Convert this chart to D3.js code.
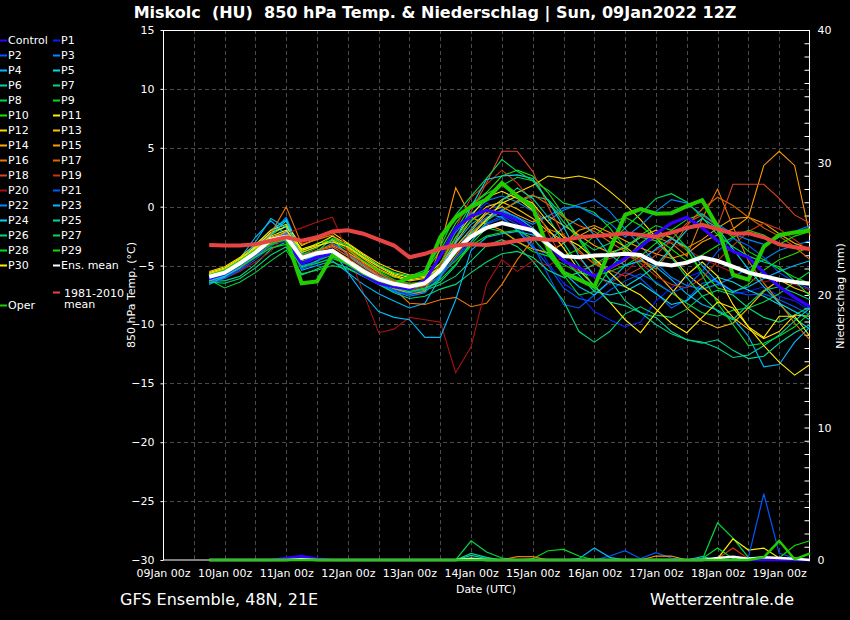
<!DOCTYPE html>
<html><head><meta charset="utf-8">
<script src="https://cdn.jsdelivr.net/npm/d3@7"></script>
<style>
html,body{margin:0;padding:0;background:#000;}
svg{display:block;}
text{font-family:"DejaVu Sans",sans-serif;fill:#fff;}
</style></head><body>
<svg id="c" width="850" height="620"></svg>
<script>
// ---------- DATA ----------
const titleText = "Miskolc  (HU)  850 hPa Temp. & Niederschlag | Sun, 09Jan2022 12Z";
const leadHours = d3.range(6, 241, 6); // forecast steps after 09Jan2022 12Z run
const xTickLabels = ["09Jan 00z","10Jan 00z","11Jan 00z","12Jan 00z","13Jan 00z","14Jan 00z","15Jan 00z","16Jan 00z","17Jan 00z","18Jan 00z","19Jan 00z"];
const tempTicks = [15,10,5,0,-5,-10,-15,-20,-25,-30];
const precipTicks = [0,10,20,30,40];

const memberNames = ["P1","P2","P3","P4","P5","P6","P7","P8","P9","P10","P11","P12","P13","P14","P15","P16","P17","P18","P19","P20","P21","P22","P23","P24","P25","P26","P27","P28","P29","P30"];
const memberColors = ["#0022ff","#0058ff","#0088ff","#00bbff","#00d8e8","#00d898","#00d878","#00d844","#00dd18","#22dd00","#ffee00","#ffd800","#ffc000","#ffaa00","#ff9900","#ee7700","#dd6600","#dd4422","#cc3311","#aa1111","#0058ff","#0088ff","#00bbff","#00d8e8","#00d898","#00d878","#00dd55","#00dd22","#11dd00","#ffee00"];

const memberTemps = [
 [-6.2,-5.8,-5.0,-4.1,-3.2,-2.0,-4.9,-4.4,-3.4,-4.2, -5.2,-6.0,-6.9,-7.1,-6.9,-5.5,-3.0,-1.0,0.3,-0.2, -1.0,-2.4,-4.8,-6.5,-7.4,-8.9,-9.6,-10.2,-9.8,-8.0, -6.9,-6.0,-5.5,-6.5,-7.4,-7.2,-6.8,-7.6,-8.0,-8.8],
 [-6.4,-6.0,-5.3,-4.3,-3.0,-1.5,-5.1,-4.6,-3.6,-4.5, -5.6,-6.4,-7.2,-7.5,-7.2,-6.0,-4.4,-2.6,-1.4,-0.8, -1.5,-3.2,-5.8,-8.3,-8.6,-7.5,-6.4,-5.6,-6.1,-7.3, -8.6,-7.9,-6.5,-6.3,-7.2,-7.5,-7.4,-7.9,-8.5,-9.2],
 [-6.0,-5.7,-5.0,-3.5,-2.3,-0.9,-4.0,-3.8,-3.1,-3.9, -4.9,-5.8,-6.5,-6.7,-6.2,-4.3,-2.2,-0.6,0.5,0.9, 0.4,-0.4,-1.2,-0.3,0.2,0.6,-0.4,-1.9,-3.3,-4.8, -6.0,-6.7,-7.0,-6.6,-6.0,-5.2,-4.5,-3.7,-3.3,-2.9],
 [-6.6,-6.0,-4.4,-2.6,-1.2,-2.4,-5.4,-5.0,-4.6,-5.6, -6.6,-7.4,-8.0,-8.6,-8.2,-6.0,-3.1,-1.5,-0.6,-0.9, -2.0,-3.5,-4.0,-5.6,-6.8,-7.5,-6.3,-5.0,-4.6,-5.1, -6.2,-7.4,-8.3,-8.8,-9.5,-11.0,-13.6,-13.4,-11.5,-10.2],
 [-5.9,-5.5,-4.6,-3.3,-2.0,-1.1,-3.9,-3.4,-2.8,-4.1, -5.0,-5.9,-6.3,-6.6,-6.4,-5.2,-3.7,-2.3,-1.0,-0.3, -0.9,-1.8,-3.0,-4.4,-5.8,-7.2,-7.5,-7.2,-6.5,-7.4, -8.3,-8.0,-6.8,-6.0,-6.4,-7.1,-7.6,-8.3,-9.5,-10.4],
 [-6.1,-5.8,-5.1,-4.2,-3.1,-2.7,-4.7,-4.1,-3.7,-4.4, -5.3,-6.1,-6.7,-7.0,-6.7,-5.6,-4.0,-2.2,-1.2,-0.3, 0.4,0.9,0.6,-0.8,-2.6,-4.5,-6.2,-8.0,-9.0,-9.4, -10.6,-11.3,-11.5,-12.0,-12.8,-12.6,-11.8,-10.9,-9.7,-8.6],
 [-6.3,-6.3,-5.9,-4.9,-3.6,-3.0,-5.2,-4.6,-4.1,-4.9, -5.7,-6.4,-7.0,-7.3,-7.1,-6.6,-5.9,-4.6,-3.3,-2.8, -3.4,-4.6,-6.3,-8.0,-10.6,-11.5,-10.6,-9.1,-8.5,-9.2, -9.4,-8.7,-7.6,-7.1,-7.5,-8.6,-9.4,-9.8,-9.2,-8.5],
 [-6.2,-6.9,-6.4,-5.6,-4.6,-3.7,-5.7,-5.4,-5.0,-5.3, -5.9,-6.5,-6.9,-7.4,-7.0,-5.2,-2.0,0.1,1.1,1.8, 2.5,2.2,1.4,0.3,0.0,-0.5,-1.8,-3.5,-5.1,-6.5, -7.3,-8.2,-9.0,-9.3,-8.8,-8.6,-8.1,-7.4,-6.4,-5.5],
 [-6.0,-5.6,-4.9,-4.0,-2.9,-2.3,-4.1,-3.5,-2.5,-3.6, -4.6,-5.5,-6.2,-6.5,-6.4,-5.7,-4.6,-3.2,-1.8,-2.1, -2.9,-3.8,-4.2,-4.9,-5.6,-5.9,-5.5,-5.0,-4.2,-3.1, -2.0,-1.1,-0.6,-1.6,-2.6,-3.8,-4.5,-5.3,-6.0,-6.5],
 [-5.7,-5.4,-4.7,-3.7,-2.4,-1.6,-3.8,-3.1,-2.9,-3.7, -4.6,-5.4,-6.0,-6.2,-5.6,-3.7,-1.4,0.2,1.2,2.6, 3.1,2.6,1.2,-0.7,-2.8,-4.7,-5.2,-4.5,-3.1,-2.2, -2.6,-3.7,-5.5,-6.9,-7.3,-6.6,-5.4,-4.5,-4.0,-3.4],
 [-5.6,-5.2,-4.4,-3.4,-2.2,-1.7,-3.6,-3.2,-2.5,-3.2, -4.1,-5.0,-5.7,-6.0,-5.9,-4.8,-2.6,-0.8,0.8,1.3, 0.7,-0.3,-1.9,-3.5,-5.4,-6.7,-8.1,-9.6,-10.7,-9.0, -7.4,-5.8,-4.7,-5.9,-8.3,-10.2,-11.8,-13.2,-14.3,-13.4],
 [-5.5,-5.1,-4.3,-3.2,-2.0,-1.5,-3.3,-2.7,-2.2,-3.1, -4.0,-4.8,-5.4,-5.8,-5.7,-4.9,-3.4,-1.9,-0.4,0.6, 1.2,1.8,2.6,2.4,2.6,2.3,1.3,0.2,-1.1,-2.6, -4.2,-5.7,-6.8,-7.9,-9.4,-10.4,-11.2,-10.6,-9.2,-9.3],
 [-5.8,-5.4,-4.6,-3.6,-2.6,-2.2,-3.9,-3.4,-2.8,-3.5, -4.4,-5.3,-5.9,-6.3,-6.1,-5.0,-3.0,-1.2,0.0,0.4, -0.2,-1.0,-2.1,-2.9,-2.5,-1.8,-2.6,-3.4,-4.4,-5.6, -7.0,-8.6,-9.7,-10.3,-9.9,-8.6,-7.2,-6.2,-6.9,-7.4],
 [-5.9,-5.5,-4.8,-3.8,-2.8,-2.1,-4.3,-3.7,-3.3,-3.9, -4.7,-5.6,-6.4,-6.9,-6.6,-5.5,-3.8,-2.1,-0.6,0.0, -0.7,-1.3,-0.8,-1.6,-2.4,-3.3,-3.9,-3.5,-2.6,-2.0, -2.7,-3.5,-2.8,-1.8,-1.0,-0.9,-1.4,-2.3,-3.1,-3.6],
 [-6.0,-5.7,-5.0,-4.1,-3.1,-2.5,-4.5,-4.0,-3.6,-4.4, -5.3,-6.1,-6.9,-7.4,-7.2,-3.4,1.6,-0.9,-1.5,-2.0, -3.0,-3.6,-3.9,-3.1,-2.0,-1.6,-2.2,-2.9,-3.5,-4.0, -4.4,-4.0,-3.0,-2.4,-1.9,-0.9,3.5,4.7,3.5,-2.5],
 [-6.1,-5.7,-4.9,-3.9,-2.3,0.0,-3.2,-2.8,-2.4,-3.6, -4.8,-5.9,-7.0,-8.2,-8.3,-7.9,-7.7,-8.5,-8.2,-6.6, -4.5,-2.8,-1.9,-2.4,-3.7,-4.9,-5.3,-4.6,-3.3,-2.6, -3.1,-4.2,-1.0,1.5,-1.7,-4.6,-6.5,-8.1,-9.9,-11.3],
 [-6.2,-5.8,-5.0,-4.0,-3.0,-2.6,-4.5,-3.8,-3.4,-4.2, -5.1,-5.9,-6.5,-6.9,-6.7,-5.9,-4.2,-2.4,-1.0,-0.4, 0.5,1.0,0.2,-0.9,-1.6,-2.1,-3.0,-3.8,-4.6,-5.3, -3.6,-1.6,-0.2,0.8,0.1,-0.9,-1.8,-2.5,-3.4,-4.5],
 [-6.0,-5.5,-4.7,-3.8,-2.7,-2.4,-4.2,-3.7,-3.2,-4.0, -4.9,-5.7,-6.3,-6.6,-6.4,-5.0,-2.6,-0.4,2.0,4.7, 4.7,3.0,0.0,-2.4,-3.9,-4.8,-5.4,-5.9,-5.2,-4.1, -2.8,-1.4,-0.7,-1.7,1.9,1.9,1.9,0.7,-0.7,-1.4],
 [-6.3,-5.9,-5.2,-4.3,-3.3,-2.8,-4.7,-4.2,-3.9,-4.6, -5.4,-6.2,-6.8,-7.1,-6.8,-4.9,-1.8,0.8,1.9,3.1, 2.0,0.4,-2.2,-4.6,-5.5,-4.9,-4.4,-4.0,-4.8,-5.9, -6.6,-6.9,-6.1,-4.6,-3.3,-2.1,-1.4,-1.9,-2.8,-3.8],
 [-6.4,-6.1,-5.5,-4.7,-3.8,-2.3,-1.8,-1.3,-0.9,-3.9, -7.3,-10.7,-10.4,-9.4,-9.6,-9.8,-14.1,-11.9,-6.6,-4.5, -5.5,-4.6,-5.0,-4.3,-4.4,-5.7,-6.6,-5.6,-4.3,-3.7, -3.0,-3.6,-4.4,-5.0,-5.6,-6.1,-6.4,-6.1,-6.6,-7.1],
 [-6.5,-6.1,-5.4,-4.5,-3.4,-2.4,-5.3,-4.8,-4.3,-5.0, -5.9,-6.6,-7.1,-7.4,-7.0,-5.8,-4.4,-3.0,-1.5,-1.0, -1.8,-3.4,-5.0,-6.9,-7.8,-8.1,-7.1,-6.3,-5.7,-6.4, -7.3,-6.8,-5.5,-3.8,-2.7,-3.3,-4.3,-5.6,-6.4,-7.0],
 [-6.2,-5.8,-5.1,-4.3,-3.2,-2.2,-5.0,-4.7,-3.7,-4.6, -5.6,-6.5,-7.2,-7.6,-7.3,-5.9,-3.7,-1.9,-0.9,-0.4, -0.9,-1.5,-0.8,-0.1,0.0,-0.7,-1.4,-2.6,-1.6,-0.4, 0.6,0.3,-0.7,-1.5,-2.3,-2.8,-3.2,-2.6,-2.1,-1.6],
 [-6.5,-6.0,-4.9,-3.0,-1.0,-1.8,-4.7,-4.1,-3.7,-5.6, -7.4,-8.9,-9.4,-9.6,-11.1,-11.1,-7.9,-3.7,-2.6,-2.3, -2.1,-2.4,-2.9,-1.8,-1.0,-2.4,-4.1,-5.0,-4.6,-3.6, -2.7,-3.4,-5.0,-6.4,-7.2,-6.8,-6.1,-5.5,-5.0,-4.6],
 [-6.3,-5.9,-5.2,-4.0,-2.4,-1.2,-4.4,-4.3,-3.8,-4.8, -5.7,-6.3,-6.6,-6.9,-6.5,-5.3,-2.9,0.0,2.3,2.6, 2.7,2.4,0.5,-1.7,-4.2,-5.9,-6.4,-6.8,-6.0,-5.0, -3.5,-2.0,-1.0,-1.8,-3.6,-5.3,-6.8,-8.2,-8.9,-9.6],
 [-6.0,-5.6,-4.8,-4.0,-3.1,-2.7,-4.8,-4.2,-3.9,-4.7, -5.6,-6.3,-6.9,-7.2,-6.9,-6.4,-5.0,-3.0,-1.3,0.5, 1.6,0.7,-0.9,-3.1,-5.0,-6.8,-8.1,-8.4,-9.0,-10.0, -10.8,-11.3,-11.6,-11.3,-12.2,-12.9,-12.7,-11.6,-10.7,-10.0],
 [-6.4,-6.5,-6.1,-5.2,-4.1,-3.4,-5.8,-5.3,-4.7,-5.2, -5.9,-6.6,-7.3,-7.8,-7.6,-7.0,-6.6,-5.6,-4.7,-4.0, -3.8,-4.3,-5.4,-6.0,-5.6,-4.9,-4.1,-3.3,-2.6,-2.9, -4.3,-6.0,-7.6,-8.9,-9.6,-8.3,-7.1,-6.8,-7.3,-7.9],
 [-5.8,-5.5,-4.8,-3.9,-2.9,-2.5,-4.3,-3.8,-2.7,-3.3, -4.2,-5.0,-5.6,-5.9,-5.4,-3.4,-0.7,0.9,2.4,4.0, 3.0,2.2,0.5,-1.3,-2.8,-3.7,-3.1,-1.8,-0.6,0.7, 1.1,0.4,-0.9,-2.4,-3.4,-4.2,-4.7,-5.1,-6.3,-7.6],
 [-6.1,-5.8,-5.1,-4.3,-3.5,-3.2,-5.1,-4.8,-4.4,-4.9, -5.7,-6.3,-6.8,-7.2,-7.0,-6.2,-4.9,-3.3,-2.5,-2.2, -2.0,-2.7,-4.1,-5.8,-7.5,-7.2,-5.3,-3.6,-2.4,-1.6, -2.0,-3.5,-5.8,-8.2,-10.0,-11.8,-11.6,-11.0,-10.2,-9.0],
 [-5.9,-5.6,-4.9,-4.1,-3.2,-2.9,-4.6,-4.4,-4.0,-4.8, -5.6,-6.2,-6.8,-7.0,-6.6,-4.8,-2.6,-1.2,-0.3,-0.5, -1.1,-2.2,-3.5,-4.2,-3.6,-2.5,-1.4,-0.9,-1.6,-2.7, -3.6,-4.6,-4.1,-3.3,-2.6,-2.0,-2.4,-3.2,-2.5,-2.1],
 [-5.7,-5.3,-4.5,-3.5,-2.5,-2.0,-3.7,-3.3,-3.0,-3.4, -4.3,-5.1,-5.8,-6.2,-6.0,-5.2,-3.9,-2.5,-1.1,0.3, 0.9,0.3,-1.3,-2.6,-3.3,-4.4,-5.6,-6.8,-7.5,-8.7, -9.9,-10.7,-9.4,-8.1,-8.6,-10.2,-11.1,-9.3,-9.3,-11.0]
];

const controlTemp = [-6.1,-5.7,-4.9,-4.0,-3.0,-2.9,-4.8,-4.3,-4.0,-4.9, -5.8,-6.5,-6.8,-7.0,-6.3,-4.2,-1.8,-0.8,-0.3,-0.6, -1.2,-2.0,-3.2,-4.6,-5.2,-5.9,-5.2,-4.4,-3.4,-2.3, -1.4,-0.9,-1.8,-2.9,-3.8,-4.3,-5.6,-6.8,-7.7,-8.5];
const operTemp = [-5.9,-5.5,-4.7,-3.8,-3.0,-2.7,-6.5,-6.35,-4.1,-4.8, -5.6,-6.2,-6.6,-6.0,-5.7,-2.6,-0.9,0.0,0.6,2.0, 0.9,0.0,-3.6,-5.6,-6.2,-6.8,-3.7,-0.7,-0.2,-0.6, -0.55,0.05,0.55,-1.7,-5.8,-6.2,-3.4,-2.4,-2.2,-2.0];
const ensMeanTemp = [-5.95,-5.6,-4.8,-3.9,-2.8,-2.55,-4.35,-3.95,-3.75,-4.65, -5.5,-6.15,-6.55,-6.8,-6.5,-5.4,-3.7,-2.55,-1.8,-1.4, -1.7,-2.0,-3.2,-4.2,-4.3,-4.15,-4.1,-4.0,-4.1,-4.8, -5.0,-4.75,-4.3,-4.6,-5.1,-5.6,-5.9,-6.2,-6.4,-6.55];
const climateTemp = [-3.25,-3.3,-3.3,-3.2,-2.9,-2.6,-2.9,-2.6,-2.1,-2.0, -2.3,-2.8,-3.3,-4.3,-4.0,-3.55,-3.3,-3.2,-3.25,-3.1, -2.9,-2.7,-2.8,-2.85,-2.6,-2.5,-2.4,-2.25,-2.4,-2.55, -2.2,-1.8,-1.55,-1.9,-2.3,-2.25,-2.6,-3.2,-3.45,-3.6];

// 6-hourly precipitation (mm); members not listed had none
const memberPrecip = {
 P1:  [0,0,0,0,0,0,0.2,0,0,0, 0,0,0,0,0,0,0,0,0,0, 0,0,0,0,0,0,0,0,0,0, 0,0,0,0,0,0,0,0,0,0],
 P2:  [0,0,0,0,0,0,0,0,0,0, 0,0,0,0,0,0,0,0,0,0, 0,0,0,0,0,0,0.3,0.7,0.1,0.55, 0.15,0,0,0,0,0,0,0,0,0],
 P4:  [0,0,0,0,0,0,0,0,0,0, 0,0,0,0,0,0,0,0,0,0, 0,0,0,0,0.1,0.9,0.2,0,0,0, 0,0,0.25,0,0,0,0,0,0,0],
 P6:  [0,0,0,0,0,0,0,0,0,0, 0,0,0,0,0,0,0,0.35,0.1,0, 0,0,0,0,0,0,0,0,0,0, 0,0,0,0,0,0,0,0,0,0],
 P8:  [0,0,0,0,0,0,0,0,0,0, 0,0,0,0,0,0,0,1.45,0.6,0.15, 0,0,0,0,0,0,0,0,0,0, 0,0,0,2.8,1.65,0.2,0,0,0,0],
 P9:  [0,0,0,0,0,0,0,0,0,0, 0,0,0,0,0,0,0,0,0,0, 0,0.1,0.7,0.8,0.3,0,0,0,0,0, 0,0,0,0,0,0,0,0,0,0],
 P11: [0,0,0,0,0,0,0,0,0,0, 0,0,0,0,0,0,0,0,0,0, 0,0,0,0,0,0,0,0,0,0, 0,0,0,0.1,1.6,0.75,0.9,0.15,0,0],
 P15: [0,0,0,0,0,0,0,0,0,0, 0,0,0,0,0,0,0,0,0,0, 0,0,0,0,0,0,0,0,0,0.3, 0.3,0,0,0,0,0,0,0,0,0],
 P16: [0,0,0,0,0,0,0,0,0,0, 0,0,0,0,0,0,0,0,0,0, 0.25,0.25,0,0,0,0,0,0,0,0, 0,0,0,0,0,0,0,0,0,0],
 P19: [0,0,0,0,0,0,0,0,0,0, 0,0,0,0,0,0,0,0,0,0, 0,0,0,0,0,0,0,0,0,0, 0,0,0,0.1,0.9,0.1,0,0,0,0],
 P21: [0,0,0,0,0,0,0,0,0,0, 0,0,0,0,0,0,0,0,0,0, 0,0,0,0,0,0,0,0,0,0, 0,0,0,0,0,0.2,5.0,0.5,0.15,0],
 P25: [0,0,0,0,0,0,0,0,0,0, 0,0,0,0,0,0,0,0.5,0.2,0, 0,0,0,0,0,0,0,0,0,0, 0,0,0,0,0,0,0,0,0,0],
 P28: [0,0,0,0,0,0,0,0,0,0, 0,0,0,0,0,0,0,0,0,0, 0,0,0,0,0,0,0,0,0,0, 0,0,0.1,0.9,0.1,0,0,0,0,0],
 P29: [0,0,0,0,0,0,0,0,0,0, 0,0,0,0,0,0,0,0,0,0, 0,0,0,0,0,0,0,0,0,0, 0,0,0,0,0,0,0,0.15,1.1,1.45]
};
const controlPrecip = [0,0,0,0,0,0.15,0.3,0.1,0,0, 0,0,0,0,0,0,0,0,0,0, 0,0,0,0,0,0,0,0,0,0, 0,0,0,0,0,0,0,0,0,0];
const operPrecip =    [0,0,0,0,0,0,0,0,0,0, 0,0,0,0,0,0,0,0,0,0, 0,0,0,0,0,0,0,0,0,0, 0,0,0,0,0,0,0.2,1.45,0.05,0.5];
const ensMeanPrecip = [0,0,0,0,0,0,0.05,0,0,0, 0,0,0,0,0,0,0,0.1,0,0, 0,0,0,0,0,0,0,0,0,0, 0,0,0,0.15,0.25,0.1,0.2,0.15,0.1,0];

// ---------- CHART ----------
const svg = d3.select("#c");
svg.append("rect").attr("width",850).attr("height",620).attr("fill","#000");

const runTime = Date.UTC(2022,0,9,12);
const times = leadHours.map(h => new Date(runTime + h*3600e3));
const t0 = new Date(Date.UTC(2022,0,9,0)), t1 = new Date(Date.UTC(2022,0,19,12));
const x = d3.scaleUtc().domain([t0,t1]).range([163,810]);
const yT = d3.scaleLinear().domain([-30,15]).range([560,30]);
const yP = d3.scaleLinear().domain([0,40]).range([560,30]);
const tickDates = xTickLabels.map(s => new Date(Date.UTC(2022, 0, +s.slice(0,2), +s.slice(6,8))));

// grid
const grid = svg.append("g").attr("stroke","#4a4a4a").attr("stroke-width",1).attr("stroke-dasharray","4,3");
d3.utcHour.every(12).range(new Date(Date.UTC(2022,0,9,12)), t1).forEach(d=>{
  grid.append("line").attr("x1",Math.round(x(d))+0.5).attr("x2",Math.round(x(d))+0.5).attr("y1",30).attr("y2",560);
});
tempTicks.filter(v=>v>-30 && v<15).forEach(v=>{
  grid.append("line").attr("x1",163).attr("x2",810).attr("y1",Math.round(yT(v))+0.5).attr("y2",Math.round(yT(v))+0.5);
});

// frame
svg.append("rect").attr("x",163.5).attr("y",30.5).attr("width",646).attr("height",529.5)
  .attr("fill","none").attr("stroke","#fff").attr("stroke-width",1);

// left axis
const leftAxis = d3.axisLeft(yT).tickValues(tempTicks).tickSize(3).tickFormat(d3.format("d"));
const gl = svg.append("g").attr("transform","translate(163.5,0)").call(leftAxis);
gl.select(".domain").remove();
gl.selectAll("line").attr("stroke","#fff");
gl.selectAll("text").attr("fill","#fff").attr("font-size",11).attr("font-family","DejaVu Sans").attr("x",-9);

// right axis (1 mm minor ticks inward)
const rightAxis = d3.axisRight(yP).ticks(40).tickSize(-5).tickFormat(d => precipTicks.includes(d) ? d : "");
const gr = svg.append("g").attr("transform","translate(809.5,0)").call(rightAxis);
gr.select(".domain").remove();
gr.selectAll("line").attr("stroke","#fff");
gr.selectAll("text").attr("fill","#fff").attr("font-size",11).attr("font-family","DejaVu Sans").attr("x",8);

// bottom labels
const bottomAxis = d3.axisBottom(x).tickValues(tickDates).tickSize(0).tickFormat((d,i)=>xTickLabels[i]);
const gb = svg.append("g").attr("transform","translate(0,560)").call(bottomAxis);
gb.select(".domain").remove();
gb.selectAll("text").attr("fill","#fff").attr("font-size",11).attr("font-family","DejaVu Sans").attr("dy","0").attr("y",17);

// axis titles
svg.append("text").attr("transform","translate(135,295) rotate(-90)").attr("text-anchor","middle").attr("font-size",11).text("850 hPa Temp. (°C)");
svg.append("text").attr("transform","translate(844,296) rotate(-90)").attr("text-anchor","middle").attr("font-size",11).text("Niederschlag (mm)");
svg.append("text").attr("x",486).attr("y",593).attr("text-anchor","middle").attr("font-size",11).text("Date (UTC)");

// title & footer
svg.append("text").attr("x",435).attr("y",18).attr("text-anchor","middle").attr("font-size",16).attr("font-weight","bold")
  .attr("font-family","DejaVu Sans Condensed, DejaVu Sans").style("white-space","pre").text(titleText);
svg.append("text").attr("x",120).attr("y",605).attr("font-size",16).text("GFS Ensemble, 48N, 21E");
svg.append("text").attr("x",650).attr("y",605).attr("font-size",16).text("Wetterzentrale.de");

// lines
const lineT = d3.line().x((d,i)=>x(times[i])).y(d=>yT(d));
const lineP = d3.line().x((d,i)=>x(times[i])).y(d=>yP(d));
const zeroPrecip = leadHours.map(()=>0);
const plot = svg.append("g");

// precipitation
memberNames.forEach((n,k)=>{
  plot.append("path").attr("d",lineP(memberPrecip[n]||zeroPrecip)).attr("fill","none")
    .attr("stroke",memberColors[k]).attr("stroke-width",1.2);
});
plot.append("path").attr("d",lineP(controlPrecip)).attr("fill","none").attr("stroke","#3300ff").attr("stroke-width",2.5);
plot.append("path").attr("d",lineP(ensMeanPrecip)).attr("fill","none").attr("stroke","#fff").attr("stroke-width",2.5);
plot.append("path").attr("d",lineP(operPrecip)).attr("fill","none").attr("stroke","#22cc00").attr("stroke-width",2.5);

// temperature
memberNames.forEach((n,k)=>{
  plot.append("path").attr("d",lineT(memberTemps[k])).attr("fill","none")
    .attr("stroke",memberColors[k]).attr("stroke-width",1.1).attr("stroke-linejoin","miter");
});
plot.append("path").attr("d",lineT(controlTemp)).attr("fill","none").attr("stroke","#3300ff").attr("stroke-width",3.2);
plot.append("path").attr("d",lineT(operTemp)).attr("fill","none").attr("stroke","#22cc00").attr("stroke-width",4);
plot.append("path").attr("d",lineT(ensMeanTemp)).attr("fill","none").attr("stroke","#fff").attr("stroke-width",4);
plot.append("path").attr("d",lineT(climateTemp)).attr("fill","none").attr("stroke","#e84444").attr("stroke-width",4);

// legend
const leg = svg.append("g").attr("font-size",11);
const legItems = [["Control","#3300ff"]].concat(memberNames.map((n,k)=>[n,memberColors[k]])).concat([["Ens. mean","#fff"]]);
legItems.forEach((it,i)=>{
  const col = i%2, row = Math.floor(i/2);
  const lx = col ? 53 : 0, ly = 40 + row*15;
  leg.append("line").attr("x1",lx).attr("x2",lx+7).attr("y1",ly+0.5).attr("y2",ly+0.5).attr("stroke",it[1]).attr("stroke-width",2);
  leg.append("text").attr("x",lx+8).attr("y",ly+4).text(it[0]);
});
leg.append("line").attr("x1",53).attr("x2",60).attr("y1",292.5).attr("y2",292.5).attr("stroke","#e84444").attr("stroke-width",2);
leg.append("text").attr("x",64).attr("y",296.5).text("1981-2010");
leg.append("text").attr("x",64).attr("y",307.5).text("mean");
leg.append("line").attr("x1",0).attr("x2",7).attr("y1",305.5).attr("y2",305.5).attr("stroke","#22cc00").attr("stroke-width",2);
leg.append("text").attr("x",8).attr("y",309).text("Oper");
</script>
</body></html>
